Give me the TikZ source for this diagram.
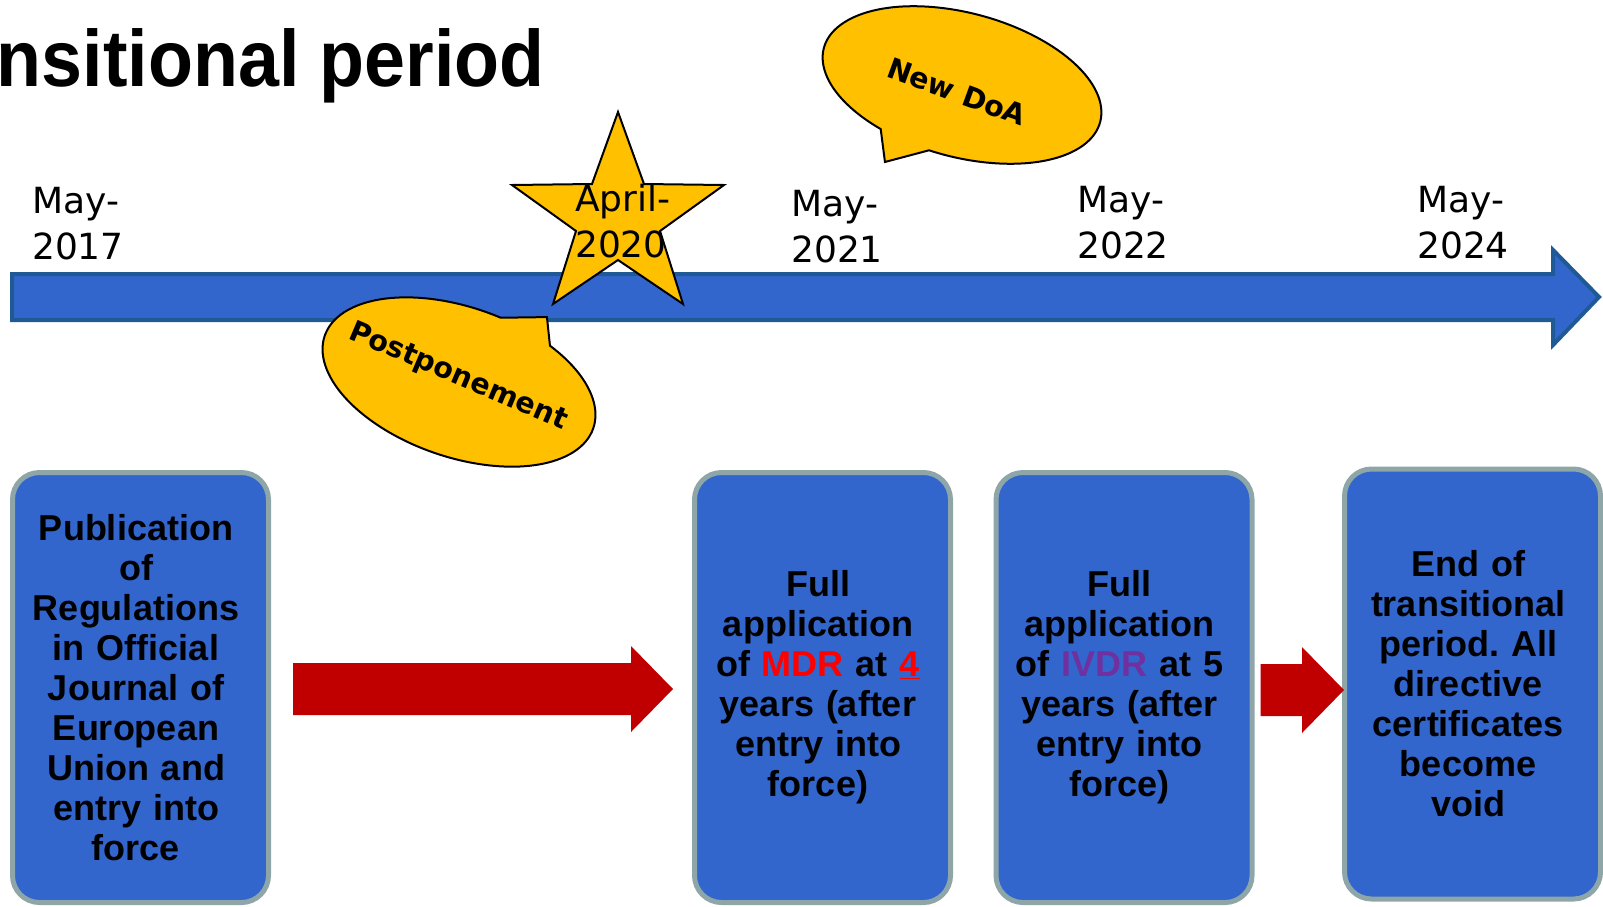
\documentclass[tikz,border=0pt]{standalone}
\usepackage{fontspec}
\setmainfont{Liberation Sans}
\newfontfamily\verdana{DejaVu Sans}
\usetikzlibrary{calc}
\definecolor{tlblue}{HTML}{3366CC}
\definecolor{tledge}{HTML}{1F5A96}
\definecolor{boxedge}{HTML}{8FA6A9}
\definecolor{callyellow}{HTML}{FFC000}
\definecolor{arrowred}{HTML}{C00000}
\definecolor{mdrred}{HTML}{FF0000}
\definecolor{ivdrpurple}{HTML}{7030A0}

\begin{document}
\begin{tikzpicture}[x=1pt,y=-1pt,
  event/.style={draw=boxedge,line width=5pt,fill=tlblue,rounded corners=27pt,
    minimum width=256pt,minimum height=430pt,text width=240pt,align=center,
    inner sep=0pt,font=\bfseries\fontsize{36}{40}\selectfont,
    execute at begin node={\leftskip=-9pt plus 1fil\rightskip=0pt plus 1fil}},
  date/.style={anchor=north west,inner sep=0pt,align=left,
    font=\verdana\fontsize{36}{46}\selectfont},
  bubble/.style={draw=black,line width=2pt,fill=callyellow},
  bubbletext/.style={font=\verdana\bfseries\fontsize{28.6}{30}\selectfont}]
  \def\blockarrow(#1)(#2){%
    \fill[arrowred] ($(#1)+(0,-26)$) -- ($(#2)+(-42,-26)$) -- ($(#2)+(-42,-43)$)
      -- (#2) -- ($(#2)+(-42,43)$) -- ($(#2)+(-42,26)$) -- ($(#1)+(0,26)$) -- cycle;
  }
  \useasboundingbox (0,0) rectangle (1603,906);
  \clip (0,0) rectangle (1603,906);

  \node[anchor=base east,inner sep=0pt,xscale=0.92,
    font=\bfseries\fontsize{80}{80}\selectfont] (title) at (545,86) {nsitional period};

  \draw[line width=4pt,draw=tledge,fill=tlblue] (12,274) -- (1553,274) -- (1553,250)
    -- (1599,297) -- (1553,345) -- (1553,320) -- (12,320) -- cycle;

  \draw[bubble] (618,112) \foreach \x/\y in {644/184,724/185,660/231,683/304,
    618/260,553/304,576/231,512/185,592/184} { -- (\x,\y) } -- cycle;

  \begin{scope}[shift={(459,382)},rotate=-19]
    \draw[bubble] (62,-90) -- (-58.5:142 and 75)
      arc[start angle=-58.5,end angle=277.5,x radius=142,y radius=75] -- cycle;
  \end{scope}
  \node[bubbletext,rotate=-23] (postpone) at (458,377) {Postponement};

  \begin{scope}[shift={(962,85)},rotate=-15]
    \draw[bubble] (-54.5,94.3) -- (118:143 and 72)
      arc[start angle=118,end angle=456,x radius=143,y radius=72] -- cycle;
  \end{scope}
  \node[bubbletext,rotate=-20] (doa) at (957,92) {New DoA};

  \node[date] (d17) at (32,187) {May-\\2017};
  \node[date] (d20) at (575,184) {April-\\2020};
  \node[date] (d21) at (791,190) {May-\\2021};
  \node[date] (d22) at (1077,186) {May-\\2022};
  \node[date] (d24) at (1417,186) {May-\\2024};

  \node[event] (publ) at (140.5,687.5) {Publication\\of\\Regulations\\in Official\\Journal of\\European\\Union and\\entry into\\force};
  \node[event] (mdr) at (822.5,687.5) {Full\\application\\of \textcolor{mdrred}{MDR} at \textcolor{mdrred}{\underline{4}}\\years (after\\entry into\\force)};
  \node[event] (ivdr) at (1124,687.5) {Full\\application\\of \textcolor{ivdrpurple}{IVDR} at 5\\years (after\\entry into\\force)};
  \node[event] (lapse) at (1472.5,684) {End of\\transitional\\period.\ All\\directive\\certificates\\become\\void};

  \coordinate (a1) at ($(publ.east)+(22,1.5)$);
  \coordinate (a2) at ($(mdr.west)+(-19,1.5)$);
  \coordinate (a3) at ($(ivdr.east)+(6,2.5)$);
  \coordinate (a4) at ($(lapse.west |- ivdr.east)+(2,2.5)$);
  \blockarrow(a1)(a2)
  \blockarrow(a3)(a4)
\end{tikzpicture}
\end{document}
